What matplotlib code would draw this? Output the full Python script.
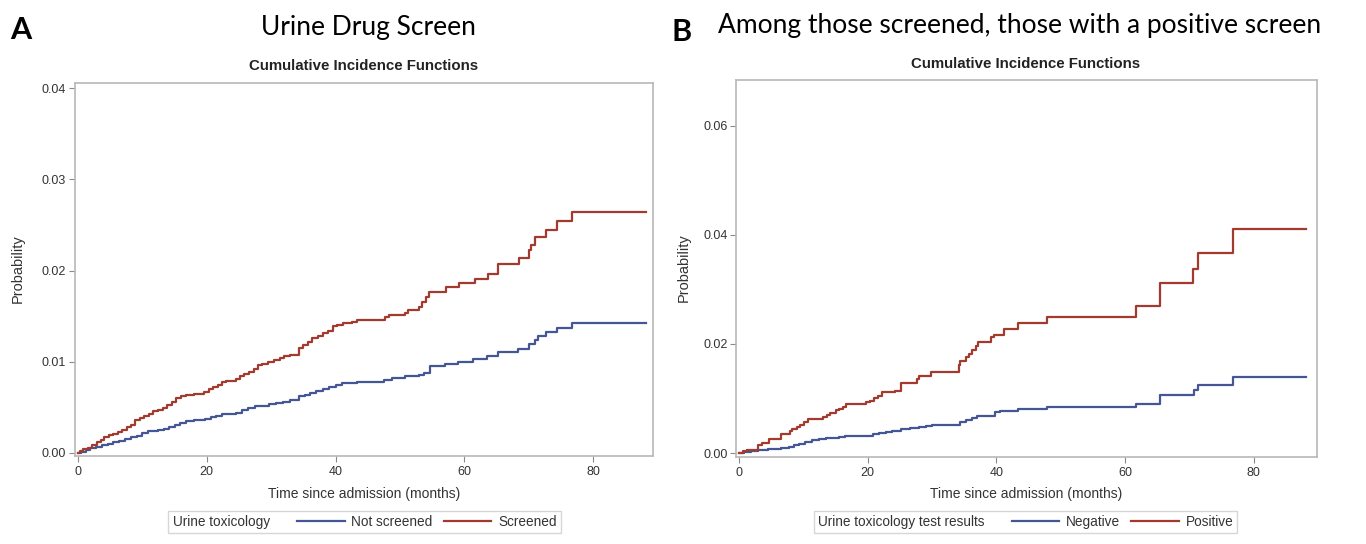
import matplotlib
matplotlib.use("Agg")
import matplotlib.pyplot as plt
from matplotlib.offsetbox import DrawingArea

# ---------------- data ----------------
# Panel A: Urine toxicology (step functions: event times in months, cumulative incidence)
a_notscr_t = [0, 0.5, 1.2, 1.9, 2.8, 3.7, 4.6, 5.5, 6.4, 7.3, 8.2, 9.1, 10.0, 10.8, 12.5, 13.3,
              14.2, 15.0, 15.9, 16.8, 18.0, 19.8, 20.6, 21.5, 22.3, 24.6, 25.5, 26.4, 27.5, 28.5,
              29.6, 30.7, 31.8, 33.0, 34.3, 35.2, 36.1, 37.0, 38.0, 39.0, 40.0, 41.0, 43.3,
              47.5, 48.8, 50.8, 53.0, 53.8, 54.6, 57.0, 59.0, 61.4, 63.5, 65.3, 68.3, 70.1,
              71.0, 71.4, 72.7, 74.4, 76.7, 88.2]
a_notscr_p = [0, 0.0001, 0.0003, 0.0005, 0.0007, 0.0009, 0.0010, 0.0012, 0.0013, 0.0015, 0.0017,
              0.0019, 0.0022, 0.0024, 0.0025, 0.0026, 0.0029, 0.0031, 0.0033, 0.0035, 0.0036,
              0.0037, 0.0039, 0.0041, 0.0043, 0.0044, 0.0047, 0.0049, 0.0051, 0.0052, 0.0054,
              0.0055, 0.0056, 0.0058, 0.0062, 0.0064, 0.0066, 0.0068, 0.0070, 0.0072, 0.0075,
              0.0077, 0.0078, 0.0080, 0.0082, 0.0084, 0.0086, 0.0088, 0.0095, 0.0098, 0.0100,
              0.0103, 0.0106, 0.0111, 0.0114, 0.0119, 0.0124, 0.0128, 0.0133, 0.0137, 0.0143,
              0.0143]
a_scr_t = [0, 0.3, 0.8, 1.5, 2.2, 2.9, 3.5, 4.1, 4.8, 5.5, 6.2, 6.9, 7.6, 8.3, 8.9, 9.6, 10.3,
           11.0, 11.7, 12.5, 13.2, 13.9, 14.6, 15.3, 16.0, 16.8, 18.0, 19.5, 20.3, 21.0, 21.7,
           22.3, 23.0, 24.6, 25.2, 25.8, 26.5, 27.3, 27.9, 28.6, 29.5, 30.5, 31.3, 32.0, 33.0,
           34.3, 35.0, 35.7, 36.4, 37.2, 38.0, 38.8, 39.6, 40.3, 41.2, 42.5, 43.3, 47.7, 48.3,
           50.8, 51.2, 53.0, 53.5, 54.0, 54.5, 57.1, 59.2, 61.6, 63.7, 65.3, 68.5, 70.1, 70.4,
           71.0, 72.7, 74.4, 76.7, 88.2]
a_scr_p = [0, 0.0002, 0.0004, 0.0006, 0.0009, 0.0012, 0.0014, 0.0018, 0.0020, 0.0021, 0.0023,
           0.0025, 0.0028, 0.0031, 0.0036, 0.0038, 0.0040, 0.0043, 0.0046, 0.0047, 0.0049,
           0.0053, 0.0056, 0.0060, 0.0062, 0.0064, 0.0065, 0.0067, 0.0070, 0.0072, 0.0075,
           0.0078, 0.0079, 0.0081, 0.0084, 0.0087, 0.0089, 0.0092, 0.0096, 0.0098, 0.0100,
           0.0102, 0.0104, 0.0106, 0.0107, 0.0115, 0.0118, 0.0122, 0.0126, 0.0128, 0.0131,
           0.0134, 0.0139, 0.0140, 0.0142, 0.0144, 0.0146, 0.0149, 0.0151, 0.0153, 0.0157,
           0.0160, 0.0165, 0.0171, 0.0176, 0.0182, 0.0186, 0.0191, 0.0196, 0.0207, 0.0214,
           0.0222, 0.0228, 0.0237, 0.0244, 0.0254, 0.0264, 0.0264]

# Panel B: Urine toxicology test results
b_neg_t = [0, 0.8, 1.8, 3.0, 4.5, 5.8, 6.5, 7.7, 8.5, 9.3, 10.2, 11.3, 12.5, 13.5, 14.5, 15.5,
           16.5, 19.9, 20.8, 21.8, 22.8, 23.7, 25.2, 26.5, 27.9, 29.0, 30.0, 34.4, 35.2, 36.2,
           37.0, 39.8, 40.5, 43.3, 47.8, 61.7, 65.4, 70.7, 71.3, 76.7, 88.1]
b_neg_p = [0, 0.0002, 0.0004, 0.0006, 0.0007, 0.0008, 0.0009, 0.0011, 0.0014, 0.0017, 0.0020,
           0.0023, 0.0025, 0.0027, 0.0028, 0.0030, 0.0031, 0.0032, 0.0035, 0.0037, 0.0038,
           0.0040, 0.0044, 0.0046, 0.0048, 0.0050, 0.0052, 0.0057, 0.0061, 0.0065, 0.0067,
           0.0075, 0.0077, 0.0080, 0.0085, 0.0090, 0.0107, 0.0115, 0.0125, 0.0140, 0.0140]
b_pos_t = [0, 0.6, 1.2, 3.0, 3.5, 4.6, 6.5, 7.9, 8.3, 9.0, 9.5, 10.1, 10.7, 13.0, 13.6, 14.2,
           15.0, 15.6, 16.2, 16.6, 19.8, 20.4, 21.0, 21.6, 22.2, 24.2, 25.2, 27.7, 27.9, 29.8,
           34.1, 34.3, 35.3, 35.8, 36.2, 36.8, 37.1, 39.2, 39.6, 41.1, 43.4, 47.9, 61.7, 65.4,
           70.6, 71.3, 76.7, 88.1]
b_pos_p = [0, 0.0003, 0.0006, 0.0014, 0.0018, 0.0026, 0.0034, 0.0040, 0.0044, 0.0048, 0.0052,
           0.0056, 0.0063, 0.0066, 0.0070, 0.0074, 0.0078, 0.0081, 0.0085, 0.0090, 0.0093,
           0.0096, 0.0100, 0.0104, 0.0111, 0.0113, 0.0129, 0.0136, 0.0142, 0.0149, 0.0162,
           0.0169, 0.0176, 0.0182, 0.0188, 0.0196, 0.0203, 0.0212, 0.0217, 0.0228, 0.0238,
           0.0249, 0.0269, 0.0312, 0.0338, 0.0367, 0.0410, 0.0410]

x_ticks = [0, 20, 40, 60, 80]
a_yticks = [0.00, 0.01, 0.02, 0.03, 0.04]
b_yticks = [0.00, 0.02, 0.04, 0.06]

a_labels = ["Not screened", "Screened"]
b_labels = ["Negative", "Positive"]
a_legend_title = "Urine toxicology"
b_legend_title = "Urine toxicology test results"

BLUE = "#445694"
RED = "#A23A2E"
FRAME = "#B8B8B8"

plt.rcParams['font.family'] = ['Liberation Sans', 'DejaVu Sans']

fig = plt.figure(figsize=(13.66, 5.44), dpi=100)
W, H = 1366.0, 544.0


def px_axes(left, top, right, bottom):
    return fig.add_axes([left / W, 1 - bottom / H, (right - left) / W, (bottom - top) / H])


axA = px_axes(74.5, 83, 653, 456)
axB = px_axes(736, 80, 1317, 457)


def style(ax, xlim, ylim, yticks):
    ax.set_xlim(*xlim)
    ax.set_ylim(*ylim)
    ax.set_xticks(x_ticks)
    ax.set_yticks(yticks)
    ax.set_yticklabels([f"{v:.2f}" for v in yticks])
    for s in ax.spines.values():
        s.set_color(FRAME)
        s.set_linewidth(1.2)
    ax.tick_params(axis='both', colors='#8a8a8a', labelcolor='#333333', labelsize=9,
                   length=4, width=0.8, direction='out')
    ax.tick_params(axis='x', pad=3)
    ax.tick_params(axis='y', pad=2)


style(axA, (-0.54, 89.3), (-0.00033, 0.04055), a_yticks)
style(axB, (-0.47, 89.8), (-0.00073, 0.0684), b_yticks)

LW = 1.6
axA.step(a_notscr_t, a_notscr_p, where='post', color=BLUE, lw=LW, label=a_labels[0])
axA.step(a_scr_t, a_scr_p, where='post', color=RED, lw=LW, label=a_labels[1])
axB.step(b_neg_t, b_neg_p, where='post', color=BLUE, lw=LW, label=b_labels[0])
axB.step(b_pos_t, b_pos_p, where='post', color=RED, lw=LW, label=b_labels[1])

# Sub-titles
fig.text(364 / W, 1 - 66 / H, "Cumulative Incidence Functions", ha='center', va='center',
         fontsize=10.8, fontweight='bold', color='#222222')
fig.text(1026 / W, 1 - 64 / H, "Cumulative Incidence Functions", ha='center', va='center',
         fontsize=10.8, fontweight='bold', color='#222222')

# Axis labels
for xc in (364, 1026):
    fig.text(xc / W, 1 - 494 / H, "Time since admission (months)", ha='center', va='center',
             fontsize=10, color='#333333')
fig.text(18 / W, 1 - 269 / H, "Probability", rotation=90, ha='center', va='center',
         fontsize=10.5, color='#333333')
fig.text(684 / W, 1 - 268 / H, "Probability", rotation=90, ha='center', va='center',
         fontsize=10.5, color='#333333')

# Big panel headings
big = ['Lato', 'DejaVu Sans']
fig.text(10 / W, 1 - 30 / H, "A", ha='left', va='center', fontsize=22, fontweight='bold',
         family=big, color='black')
fig.text(368 / W, 1 - 28 / H, "Urine Drug Screen", ha='center', va='center', fontsize=19,
         family=big, color='black')
fig.text(672 / W, 1 - 32 / H, "B", ha='left', va='center', fontsize=22, fontweight='bold',
         family=big, color='black')
fig.text(718 / W, 1 - 26 / H, "Among those screened, those with a positive screen", ha='left',
         va='center', fontsize=19, family=big, color='black')


def inline_legend(ax, title, xc):
    handles, labels = ax.get_legend_handles_labels()
    leg = fig.legend(handles, labels, title=title, ncol=2, loc='center',
                     bbox_to_anchor=(xc / W, 1 - 522 / H), fontsize=9.8, title_fontsize=9.8,
                     frameon=True, fancybox=False, edgecolor='#cccccc', handlelength=3.5,
                     handletextpad=0.5, columnspacing=0.8, borderpad=0.3)
    leg.get_frame().set_linewidth(1.0)
    for t in leg.get_texts():
        t.set_color('#333333')
    leg.get_title().set_color('#333333')
    # move the title to the left of the entries, with a small extra gap
    title_box = leg._legend_title_box
    leg._legend_box._children.remove(title_box)
    hb = leg._legend_handle_box
    hb._children.insert(0, title_box)
    hb._children.insert(1, DrawingArea(4, 1))
    return leg


inline_legend(axA, a_legend_title, 364.5)
inline_legend(axB, b_legend_title, 1025.5)

fig.savefig("out.png", dpi=100, facecolor='white')
